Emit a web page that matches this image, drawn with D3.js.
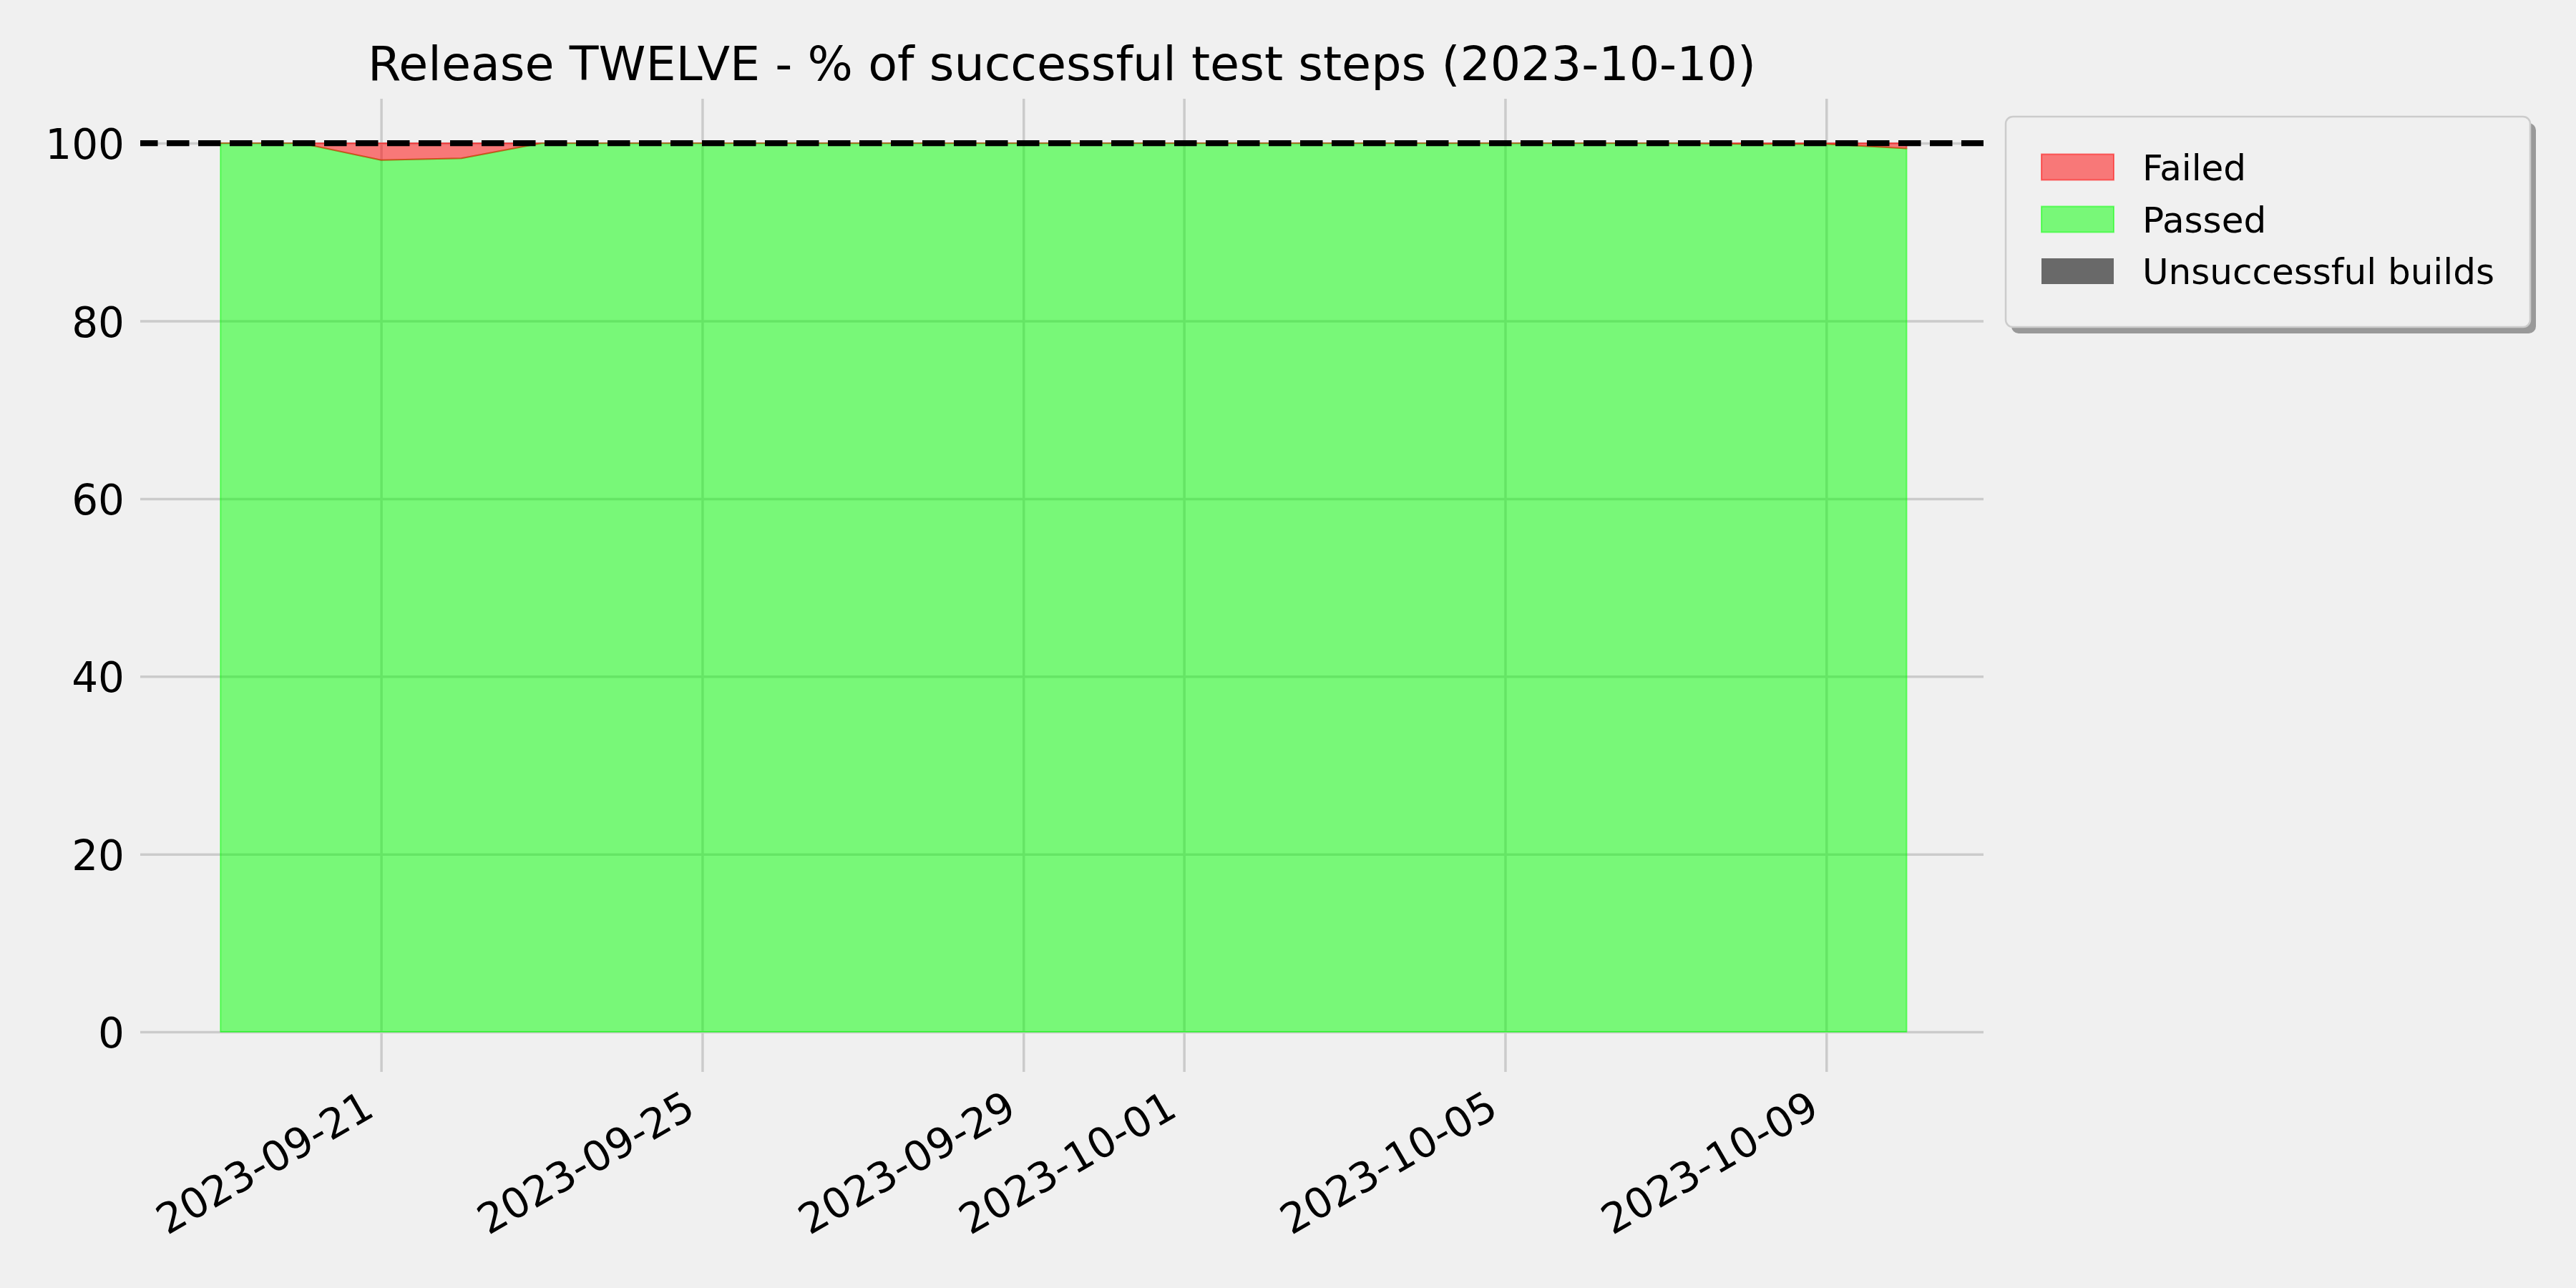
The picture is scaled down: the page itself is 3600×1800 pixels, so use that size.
<!DOCTYPE html>
<html><head><meta charset="utf-8">
<script src="https://cdn.jsdelivr.net/npm/d3@7"></script>
<style>html,body{margin:0;padding:0;background:#f0f0f0}svg{display:block}</style>
</head><body><div id="chart"></div>
<script>
const dates = ["2023-09-19","2023-09-20","2023-09-21","2023-09-22","2023-09-23","2023-09-24","2023-09-25","2023-09-26","2023-09-27","2023-09-28","2023-09-29","2023-09-30","2023-10-01","2023-10-02","2023-10-03","2023-10-04","2023-10-05","2023-10-06","2023-10-07","2023-10-08","2023-10-09","2023-10-10"];
const passed = [100,100,98.1,98.3,100,100,100,100,100,100,100,100,100,100,100,100,100,100,100,99.9,99.9,99.4];
const failed = [0,0,1.9,1.7,0,0,0,0,0,0,0,0,0,0,0,0,0,0,0,0.1,0.1,0.6];
const unsuccessfulBuilds = [0,0,0,0,0,0,0,0,0,0,0,0,0,0,0,0,0,0,0,0,0,0];
const yTicks = [0,20,40,60,80,100];
const xTickLabels = ["2023-09-21","2023-09-25","2023-09-29","2023-10-01","2023-10-05","2023-10-09"];
const seriesNames = ["Failed","Passed","Unsuccessful builds"];
const titleText = "Release TWELVE - % of successful test steps (2023-10-10)";
const targetLine = 100;

const W = 3600, H = 1800;
const FONT = "'DejaVu Sans', sans-serif";
const parse = d3.utcParse("%Y-%m-%d");
const rows = dates.map((d,i)=>({date: parse(d), passed: passed[i], failed: failed[i], unsucc: unsuccessfulBuilds[i]}));

const svg = d3.select("#chart").append("svg").attr("width",W).attr("height",H);
svg.append("rect").attr("width",W).attr("height",H).attr("fill","#f0f0f0");

const x = d3.scaleUtc()
  .domain([d3.utcHour.offset(rows[0].date,-23.5), d3.utcHour.offset(rows[rows.length-1].date,23.5)])
  .range([196,2772]);
const y = d3.scaleLinear().domain([-4.5,105]).range([1498,138]);
const [L,R] = x.range();
const [B,T] = y.range();
const tickDates = xTickLabels.map(parse);

// grid
const grid = svg.append("g");
grid.append("g").attr("transform",`translate(0,${B})`)
  .call(d3.axisBottom(x).tickValues(tickDates).tickSize(-(B-T)).tickFormat(""))
  .call(g=>{g.select(".domain").remove(); g.selectAll("line").attr("stroke","#cbcbcb").attr("stroke-width",3.5);});
grid.append("g").attr("transform",`translate(${L},0)`)
  .call(d3.axisLeft(y).tickValues(yTicks).tickSize(-(R-L)).tickFormat(""))
  .call(g=>{g.select(".domain").remove(); g.selectAll("line").attr("stroke","#cbcbcb").attr("stroke-width",3.5);});

// areas
const areaPassed = d3.area().x(d=>x(d.date)).y0(y(0)).y1(d=>y(d.passed));
const areaFailed = d3.area().x(d=>x(d.date)).y0(d=>y(d.passed)).y1(d=>y(d.passed+d.failed));
const areaUnsucc = d3.area().x(d=>x(d.date)).y0(d=>y(d.passed+d.failed)).y1(d=>y(d.passed+d.failed+d.unsucc));
svg.append("path").datum(rows).attr("d",areaPassed)
  .attr("fill","#00ff00").attr("fill-opacity",0.5)
  .attr("stroke","#00ff00").attr("stroke-opacity",0.5).attr("stroke-width",2).attr("stroke-linejoin","round");
svg.append("path").datum(rows).attr("d",areaFailed)
  .attr("fill","#ff0000").attr("fill-opacity",0.5)
  .attr("stroke","#ff0000").attr("stroke-opacity",0.5).attr("stroke-width",2).attr("stroke-linejoin","round");
svg.append("path").datum(rows).attr("d",areaUnsucc)
  .attr("fill","#696969").attr("stroke","none");

// target dashed line
svg.append("line").attr("x1",L).attr("x2",R).attr("y1",y(targetLine)).attr("y2",y(targetLine))
  .attr("stroke","#000").attr("stroke-width",8.3).attr("stroke-dasharray","31.5 12.5").attr("stroke-dashoffset",7);

// y tick labels
svg.append("g").selectAll("text").data(yTicks).join("text")
  .attr("x",174).attr("y",d=>y(d)+22).attr("text-anchor","end")
  .attr("font-family",FONT).attr("font-size",58).attr("fill","#000").text(d=>d);

// x tick labels
svg.append("g").selectAll("text").data(xTickLabels).join("text")
  .attr("transform",d=>`translate(${x(parse(d))-7},1558) rotate(-30)`)
  .attr("text-anchor","end").attr("font-family",FONT).attr("font-size",58).attr("fill","#000").text(d=>d);

// title
svg.append("text").attr("x",(L+R)/2).attr("y",112).attr("text-anchor","middle")
  .attr("font-family",FONT).attr("font-size",66.7).attr("fill","#000").text(titleText);

// legend
const lg = svg.append("g");
lg.append("rect").attr("x",2811).attr("y",172).attr("width",733).attr("height",294).attr("rx",10)
  .attr("fill","#999999");
lg.append("rect").attr("x",2803).attr("y",163).attr("width",733).attr("height",294).attr("rx",10)
  .attr("fill","#f0f0f0").attr("stroke","#cccccc").attr("stroke-width",2.5);
const legendItems = [
  {name: seriesNames[0], fill:"#ff0000", op:0.5, stroke:"#ff0000"},
  {name: seriesNames[1], fill:"#00ff00", op:0.5, stroke:"#00ff00"},
  {name: seriesNames[2], fill:"#696969", op:1, stroke:"none"}
];
const legendRowY = [215.5, 288.5, 361];
legendItems.forEach((it,i)=>{
  lg.append("rect").attr("x",2853).attr("y",legendRowY[i]).attr("width",101).attr("height",36)
    .attr("fill",it.fill).attr("fill-opacity",it.op)
    .attr("stroke",it.stroke).attr("stroke-opacity",0.5).attr("stroke-width",2);
  lg.append("text").attr("x",2994).attr("y",legendRowY[i]+36.2).attr("font-family",FONT).attr("font-size",50)
    .attr("fill","#000").text(it.name);
});
</script></body></html>
